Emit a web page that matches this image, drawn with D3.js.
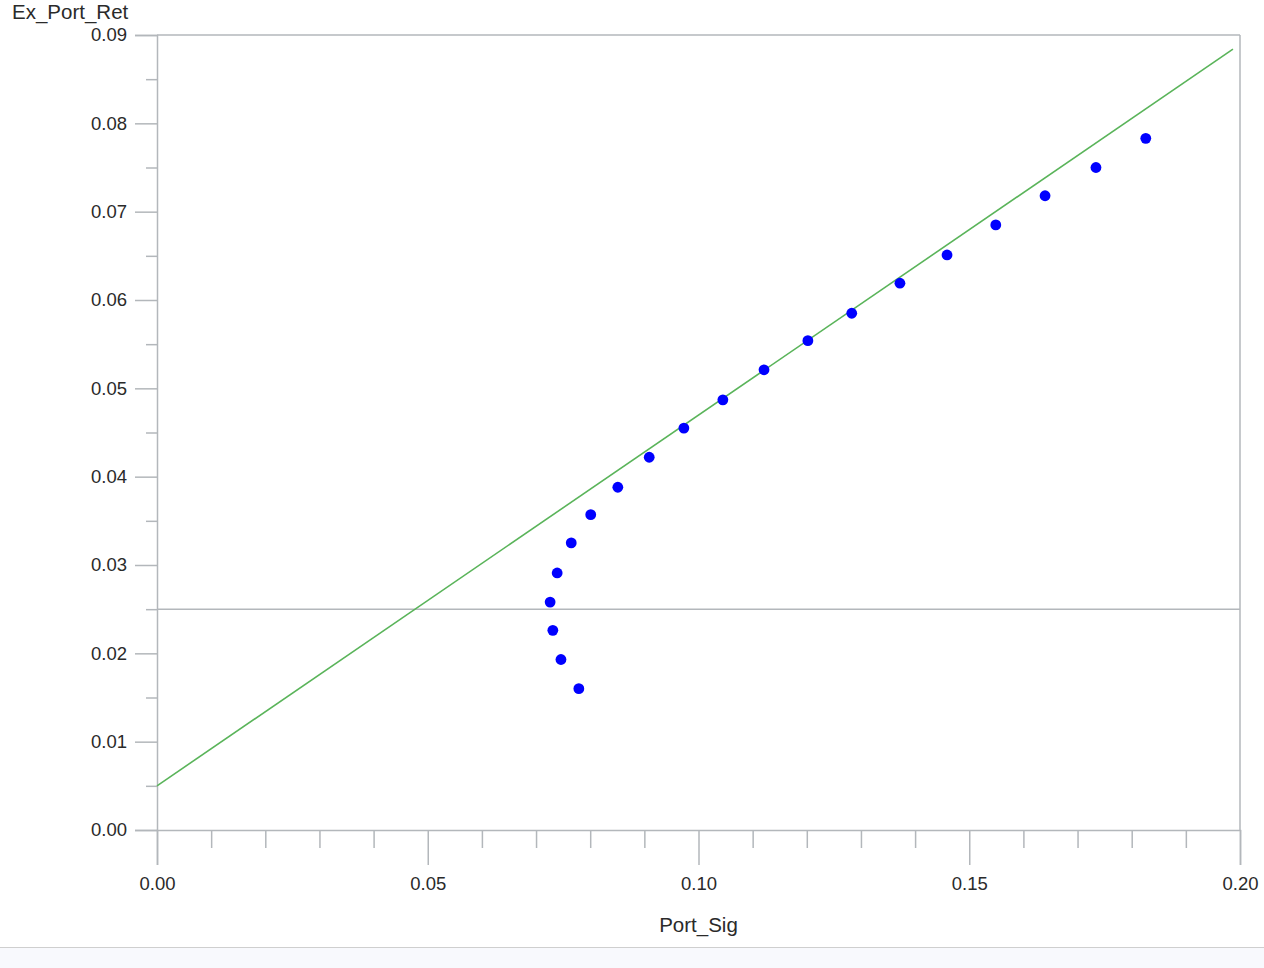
<!DOCTYPE html>
<html>
<head>
<meta charset="utf-8">
<script src="https://cdn.jsdelivr.net/npm/d3@7"></script>
<style>
  html, body { margin: 0; padding: 0; background: #fff; }
  svg { display: block; }
</style>
</head>
<body>
<script>
// Data
const portSig = [0.0779, 0.0746, 0.0731, 0.0726, 0.0739, 0.0765, 0.0801, 0.0851, 0.0909, 0.0973,
                 0.1045, 0.1121, 0.1202, 0.1283, 0.1372, 0.1459, 0.1549, 0.1640, 0.1734, 0.1826];
const exPortRet = [0.0160, 0.0193, 0.0226, 0.0258, 0.0291, 0.0325, 0.0357, 0.0388, 0.0422, 0.0455,
                   0.0487, 0.0521, 0.0554, 0.0585, 0.0619, 0.0651, 0.0685, 0.0718, 0.0750, 0.0783];
const cmlSig = [0.0, 0.1987];
const cmlRet = [0.005, 0.0884];
const refRet = 0.025;
const xTicks = [0.00, 0.05, 0.10, 0.15, 0.20];
const yTicks = [0.00, 0.01, 0.02, 0.03, 0.04, 0.05, 0.06, 0.07, 0.08, 0.09];
const xMinorTicks = [0.01,0.02,0.03,0.04,0.06,0.07,0.08,0.09,0.11,0.12,0.13,0.14,0.16,0.17,0.18,0.19];
const yMinorTicks = [0.005,0.015,0.025,0.035,0.045,0.055,0.065,0.075,0.085];

const W = 1264, H = 968;
const axisColor = "#b3b7bb";
const textColor = "#2a2a2a";
const font = "'Liberation Sans', Arial, sans-serif";

const svg = d3.select("body").append("svg").attr("width", W).attr("height", H);

// bottom strip
svg.append("rect").attr("x", 0).attr("y", 947).attr("width", W).attr("height", H - 947).attr("fill", "#f8f9fd");
svg.append("line").attr("x1", 0).attr("x2", W).attr("y1", 947.5).attr("y2", 947.5).attr("stroke", "#cfcfcf");

const x = d3.scaleLinear().domain([0, 0.20]).range([157, 1240]);
const y = d3.scaleLinear().domain([0, 0.09]).range([830, 35]);

// frame (top & right)
svg.append("line").attr("x1", x(0)).attr("x2", x(0.20)).attr("y1", y(0.09)).attr("y2", y(0.09))
  .attr("stroke", axisColor).attr("stroke-width", 1.5);
svg.append("line").attr("x1", x(0.20)).attr("x2", x(0.20)).attr("y1", y(0.09)).attr("y2", y(0))
  .attr("stroke", axisColor).attr("stroke-width", 1.5);

// Y axis
const yAxis = d3.axisLeft(y).tickValues(yTicks).tickFormat(d3.format(".2f")).tickSize(22).tickPadding(8);
const gy = svg.append("g").attr("transform", `translate(${x(0)},0)`).call(yAxis);
const yMinor = d3.axisLeft(y).tickValues(yMinorTicks).tickFormat("").tickSize(11);
const gym = svg.append("g").attr("transform", `translate(${x(0)},0)`).call(yMinor);

// X axis
const xAxis = d3.axisBottom(x).tickValues(xTicks).tickFormat(d3.format(".2f")).tickSize(35).tickPadding(12);
const gx = svg.append("g").attr("transform", `translate(0,${y(0)})`).call(xAxis);
const xMinor = d3.axisBottom(x).tickValues(xMinorTicks).tickFormat("").tickSize(18);
const gxm = svg.append("g").attr("transform", `translate(0,${y(0)})`).call(xMinor);

[gy, gym, gx, gxm].forEach(g => {
  g.select(".domain").attr("stroke", axisColor).attr("stroke-width", 1.5);
  g.selectAll(".tick line").attr("stroke", axisColor).attr("stroke-width", 1.5);
  g.selectAll(".tick text").attr("fill", textColor).style("font-family", font).style("font-size", "18.5px");
});
gym.select(".domain").remove();
gxm.select(".domain").remove();

// reference horizontal line
svg.append("line").attr("x1", x(0)).attr("x2", x(0.20)).attr("y1", y(refRet)).attr("y2", y(refRet))
  .attr("stroke", axisColor).attr("stroke-width", 1.5);

// CML
const lineData = cmlSig.map((s, i) => [s, cmlRet[i]]);
svg.append("path").datum(lineData)
  .attr("d", d3.line().x(d => x(d[0])).y(d => y(d[1])))
  .attr("fill", "none").attr("stroke", "#5ab45a").attr("stroke-width", 1.6);

// Points
svg.append("g").selectAll("circle").data(portSig.map((s, i) => [s, exPortRet[i]]))
  .join("circle")
  .attr("cx", d => x(d[0])).attr("cy", d => y(d[1])).attr("r", 5.4)
  .attr("fill", "#0000ff");

// Axis labels
svg.append("text").attr("x", 12).attr("y", 19).text("Ex_Port_Ret")
  .style("font-family", font).style("font-size", "20.5px").attr("fill", textColor);
svg.append("text").attr("x", x(0.10)).attr("y", 932).attr("text-anchor", "middle").text("Port_Sig")
  .style("font-family", font).style("font-size", "20.5px").attr("fill", textColor);
</script>
</body>
</html>
